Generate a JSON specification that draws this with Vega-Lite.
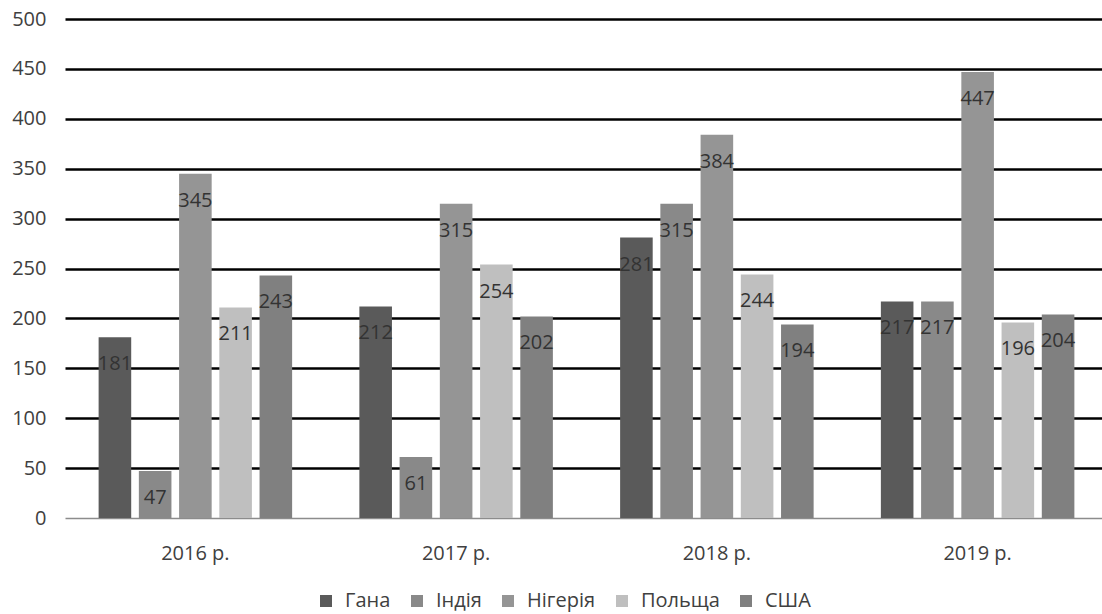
{
  "$schema": "https://vega.github.io/schema/vega-lite/v6.json",
  "autosize": {"type": "none"},
  "padding": {"left": 65, "top": 19, "right": 0, "bottom": 96},
  "width": 1037,
  "height": 499,
  "background": "white",
  "config": {
    "font": "Open Sans",
    "view": {"stroke": null}
  },
  "data": {
    "values": [
      {"year": "2016 р.", "country": "Гана", "value": 181},
      {"year": "2016 р.", "country": "Індія", "value": 47},
      {"year": "2016 р.", "country": "Нігерія", "value": 345},
      {"year": "2016 р.", "country": "Польща", "value": 211},
      {"year": "2016 р.", "country": "США", "value": 243},
      {"year": "2017 р.", "country": "Гана", "value": 212},
      {"year": "2017 р.", "country": "Індія", "value": 61},
      {"year": "2017 р.", "country": "Нігерія", "value": 315},
      {"year": "2017 р.", "country": "Польща", "value": 254},
      {"year": "2017 р.", "country": "США", "value": 202},
      {"year": "2018 р.", "country": "Гана", "value": 281},
      {"year": "2018 р.", "country": "Індія", "value": 315},
      {"year": "2018 р.", "country": "Нігерія", "value": 384},
      {"year": "2018 р.", "country": "Польща", "value": 244},
      {"year": "2018 р.", "country": "США", "value": 194},
      {"year": "2019 р.", "country": "Гана", "value": 217},
      {"year": "2019 р.", "country": "Індія", "value": 217},
      {"year": "2019 р.", "country": "Нігерія", "value": 447},
      {"year": "2019 р.", "country": "Польща", "value": 196},
      {"year": "2019 р.", "country": "США", "value": 204}
    ]
  },
  "encoding": {
    "x": {
      "field": "year", "type": "nominal",
      "scale": {"range": [0, 1043], "paddingInner": 0.227, "paddingOuter": 0.1135},
      "axis": {
        "title": null, "labelAngle": 0, "domain": false, "ticks": false,
        "labelFontSize": 20, "labelColor": "#404040", "labelPadding": 25
      }
    },
    "xOffset": {
      "field": "country", "type": "nominal",
      "sort": ["Гана", "Індія", "Нігерія", "Польща", "США"],
      "scale": {"paddingInner": 0.19, "paddingOuter": 0.1}
    },
    "y": {
      "field": "value", "type": "quantitative",
      "scale": {"domain": [0, 500], "nice": false},
      "axis": {
        "title": null, "values": [0, 50, 100, 150, 200, 250, 300, 350, 400, 450, 500],
        "domain": false, "ticks": false,
        "labelFontSize": 20, "labelColor": "#404040", "labelPadding": 19,
        "grid": true,
        "gridColor": {"condition": {"test": "datum.value === 0", "value": "#8c8c8c"}, "value": "#000000"},
        "gridWidth": {"condition": {"test": "datum.value === 0", "value": 1.5}, "value": 2.5}
      }
    }
  },
  "layer": [
    {
      "mark": {"type": "bar"},
      "encoding": {
        "color": {
          "field": "country", "type": "nominal",
          "sort": ["Гана", "Індія", "Нігерія", "Польща", "США"],
          "scale": {
            "domain": ["Гана", "Індія", "Нігерія", "Польща", "США"],
            "range": ["#5a5a5a", "#898989", "#959595", "#bfbfbf", "#808080"]
          },
          "legend": {
            "title": null, "orient": "none", "direction": "horizontal",
            "legendX": 251, "legendY": 572,
            "symbolType": "square", "symbolSize": 144, "symbolStrokeWidth": 0,
            "labelFontSize": 20, "labelColor": "#404040",
            "columnPadding": 16, "labelOffset": 9
          }
        }
      }
    },
    {
      "mark": {"type": "text", "baseline": "middle", "dy": 27, "fontSize": 20, "color": "#333333"},
      "encoding": {
        "text": {"field": "value", "type": "quantitative"}
      }
    }
  ]
}
